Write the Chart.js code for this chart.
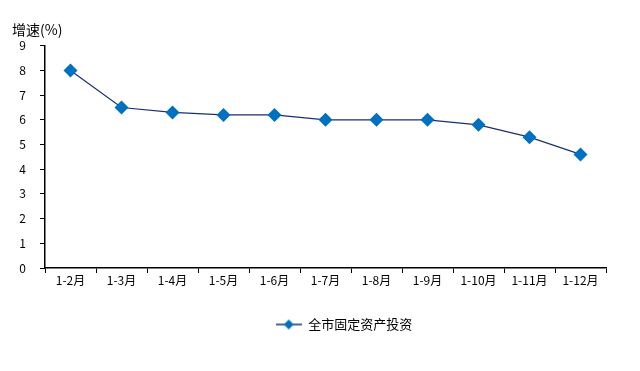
<!DOCTYPE html>
<html>
<head>
<meta charset="utf-8">
<script src="https://cdn.jsdelivr.net/npm/chart.js@4"></script>
<style>
  html, body { margin: 0; padding: 0; background: #fff; }
  #wrap { width: 640px; height: 371px; }
</style>
</head>
<body>
<div id="wrap"><canvas id="grafico"></canvas></div>
<script>
const categories = ['1-2月', '1-3月', '1-4月', '1-5月', '1-6月', '1-7月', '1-8月', '1-9月', '1-10月', '1-11月', '1-12月'];
const growth = [8.0, 6.5, 6.3, 6.2, 6.2, 6.0, 6.0, 6.0, 5.8, 5.3, 4.6];
const seriesName = '全市固定资产投资';
const yTitle = '增速(%)';

const font = "'Noto Sans CJK SC', 'Noto Sans', sans-serif";
const lineColor = '#1c2f70';
const markColor = '#0070c0';

// legend symbol: short line with a diamond in the middle
const sym = document.createElement('canvas');
sym.width = 26; sym.height = 12;
const sc = sym.getContext('2d');
sc.strokeStyle = lineColor;
sc.lineWidth = 1.5;
sc.beginPath(); sc.moveTo(0, 6); sc.lineTo(26, 6); sc.stroke();
sc.fillStyle = markColor;
sc.beginPath(); sc.moveTo(13, 1); sc.lineTo(18, 6); sc.lineTo(13, 11); sc.lineTo(8, 6); sc.closePath(); sc.fill();

// the legend sits a bit right of the canvas centre in the original
const shiftLegend = {
  id: 'shiftLegend',
  afterLayout(chart) {
    chart.legend.left += 35;
    chart.legend.right += 35;
  }
};

new Chart(document.getElementById('grafico'), {
  type: 'line',
  data: {
    labels: categories,
    datasets: [{
      label: seriesName,
      data: growth,
      borderColor: lineColor,
      borderWidth: 1.2,
      backgroundColor: markColor,
      pointStyle: 'rectRot',
      pointRadius: 7,
      pointHoverRadius: 7,
      pointBorderWidth: 0,
      tension: 0
    }]
  },
  options: {
    responsive: true,
    maintainAspectRatio: false,
    animation: false,
    layout: { padding: { left: 12, right: 34, top: 21, bottom: 30 } },
    plugins: {
      title: {
        display: true,
        text: yTitle,
        align: 'start',
        color: '#000',
        font: { family: font, size: 14, weight: 'normal' },
        padding: { top: 0, bottom: 8 }
      },
      legend: {
        position: 'bottom',
        labels: {
          color: '#000',
          font: { family: font, size: 13 },
          usePointStyle: true,
          pointStyleWidth: 26,
          generateLabels: (chart) => [{
            text: seriesName,
            pointStyle: sym,
            fillStyle: markColor,
            strokeStyle: lineColor,
            lineWidth: 0,
            datasetIndex: 0
          }]
        }
      },
      tooltip: { enabled: false }
    },
    scales: {
      x: {
        offset: true,
        grid: { offset: true, drawOnChartArea: false, drawTicks: true, tickLength: 5, color: '#000' },
        border: { color: '#000', width: 1.5 },
        ticks: { color: '#000', font: { family: font, size: 12 }, padding: 0, maxRotation: 0 },
        afterFit: (s) => { s.height = 40; }
      },
      y: {
        min: 0,
        max: 9,
        grid: { drawOnChartArea: false, drawTicks: true, tickLength: 5, color: '#000' },
        border: { color: '#000', width: 1.5 },
        ticks: { stepSize: 1, color: '#000', font: { family: font, size: 12 }, padding: 14 },
        afterFit: (s) => { s.width = 33; }
      }
    }
  },
  plugins: [shiftLegend]
});
</script>
</body>
</html>
